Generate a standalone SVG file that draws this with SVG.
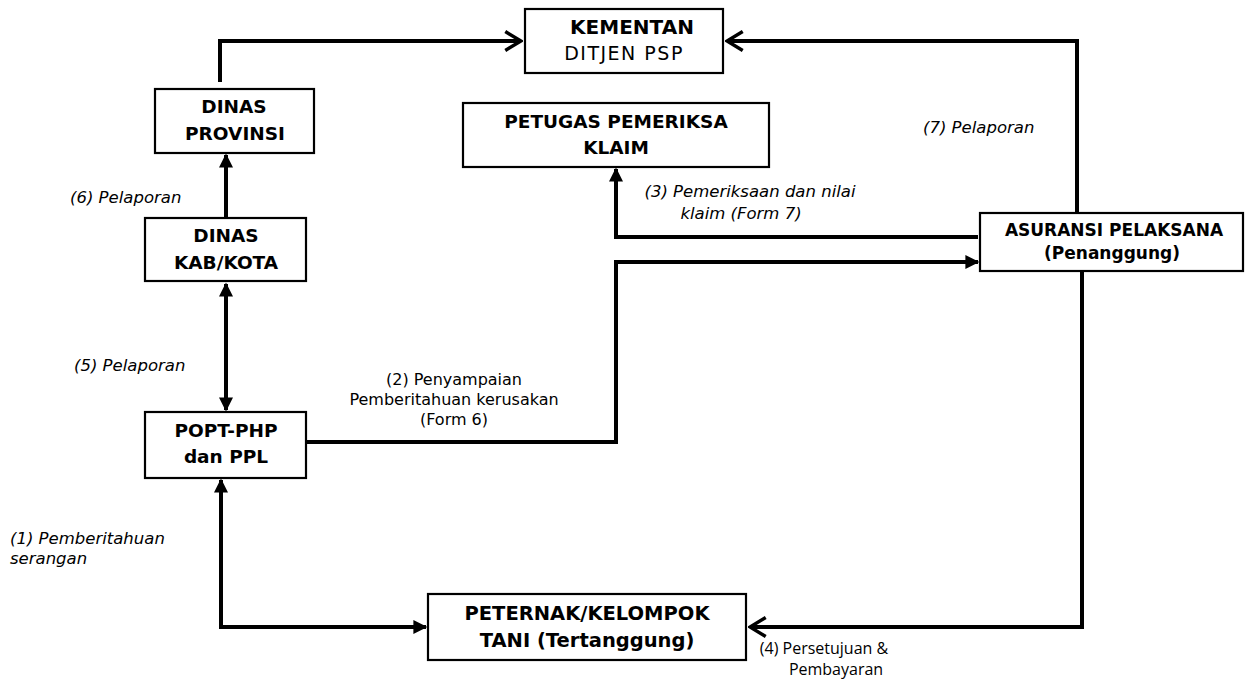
<svg xmlns="http://www.w3.org/2000/svg" width="1246" height="679" viewBox="0 0 1246 679">
<style>
.box{fill:#fff;stroke:#000;stroke-width:2.2}
.nt{font-family:"DejaVu Sans","Liberation Sans",sans-serif;font-weight:bold;font-size:18.5px;text-anchor:middle;fill:#000}
.nr{font-family:"DejaVu Sans","Liberation Sans",sans-serif;font-size:19px;text-anchor:middle;fill:#000}
.lab{font-family:"DejaVu Sans","Liberation Sans",sans-serif;font-size:16px;fill:#000}
.it{font-style:italic;font-size:16.5px}
.cn{font-family:"Open Sans","Liberation Sans",sans-serif;font-size:16px;fill:#000;text-anchor:middle}
.c{fill:none;stroke:#000;stroke-width:4;stroke-linejoin:miter}
</style>
<defs>
<marker id="fa" viewBox="0 0 10 10" refX="9" refY="5" markerWidth="16" markerHeight="14" markerUnits="userSpaceOnUse" orient="auto-start-reverse">
<path d="M0,0 L10,5 L0,10 z" fill="#000"/>
</marker>
<marker id="oa" viewBox="0 0 12 14" refX="11" refY="7" markerWidth="20" markerHeight="22" markerUnits="userSpaceOnUse" orient="auto">
<path d="M1,1 L11,7 L1,13" fill="none" stroke="#000" stroke-width="2.2"/>
</marker>
</defs>
<g id="connectors">
<path class="c" d="M220,82 V41 H521" marker-end="url(#oa)"/>
<path class="c" d="M1077,213 V41 H727" marker-end="url(#oa)"/>
<path class="c" d="M226,217 V155" marker-end="url(#fa)"/>
<path class="c" d="M226,284 V410" marker-start="url(#fa)" marker-end="url(#fa)"/>
<path class="c" d="M978,237 H616 V169" marker-end="url(#fa)"/>
<path class="c" d="M306,442 H616 V262 H978" marker-end="url(#fa)"/>
<path class="c" d="M221,480 V627 H426" marker-start="url(#fa)" marker-end="url(#fa)"/>
<path class="c" d="M1082,271 V627 H750" marker-end="url(#oa)"/>
</g>
<g id="kementan">
<rect class="box" x="525" y="9" width="198" height="64"/>
<text class="nt" x="632" y="34" style="font-size:20px">KEMENTAN</text>
<text class="nr" x="624" y="60" letter-spacing="1.5">DITJEN PSP</text>
</g>
<g id="dinas-provinsi">
<rect class="box" x="155" y="89" width="159" height="64"/>
<text class="nt" x="234" y="113">DINAS</text>
<text class="nt" x="235" y="140">PROVINSI</text>
</g>
<g id="petugas">
<rect class="box" x="463" y="103" width="306" height="64"/>
<text class="nt" x="616" y="128">PETUGAS PEMERIKSA</text>
<text class="nt" x="616" y="154">KLAIM</text>
</g>
<g id="dinas-kab">
<rect class="box" x="145" y="218" width="161" height="63"/>
<text class="nt" x="226" y="242">DINAS</text>
<text class="nt" x="226" y="269">KAB/KOTA</text>
</g>
<g id="asuransi">
<rect class="box" x="980" y="213" width="263" height="58"/>
<text class="nt" x="1114" y="236" style="font-size:17px">ASURANSI PELAKSANA</text>
<text class="nt" x="1112" y="259" style="font-size:17px">(Penanggung)</text>
</g>
<g id="popt">
<rect class="box" x="145" y="412" width="161" height="66"/>
<text class="nt" x="226" y="437">POPT-PHP</text>
<text class="nt" x="226" y="463">dan PPL</text>
</g>
<g id="peternak">
<rect class="box" x="428" y="594" width="318" height="66"/>
<text class="nt" x="587" y="620" style="font-size:19.5px">PETERNAK/KELOMPOK</text>
<text class="nt" x="587" y="647" style="font-size:19.5px">TANI (Tertanggung)</text>
</g>
<g id="labels">
<text class="lab it" x="923" y="133">(7)  Pelaporan</text>
<text class="lab it" x="70" y="203">(6)  Pelaporan</text>
<text class="lab it" x="74" y="371">(5)  Pelaporan</text>
<text class="lab it" text-anchor="middle" x="750" y="197">(3) Pemeriksaan dan nilai</text>
<text class="lab it" text-anchor="middle" x="741" y="219">klaim (Form 7)</text>
<text class="lab" text-anchor="middle" x="454" y="385">(2) Penyampaian</text>
<text class="lab" text-anchor="middle" x="454" y="405">Pemberitahuan kerusakan</text>
<text class="lab" text-anchor="middle" x="454" y="425">(Form 6)</text>
<text class="lab it" x="10" y="544">(1)  Pemberitahuan</text>
<text class="lab it" x="10" y="564">serangan</text>
<text class="cn" x="824" y="654">(4) Persetujuan &amp;</text>
<text class="cn" x="836" y="675">Pembayaran</text>
</g>
</svg>
